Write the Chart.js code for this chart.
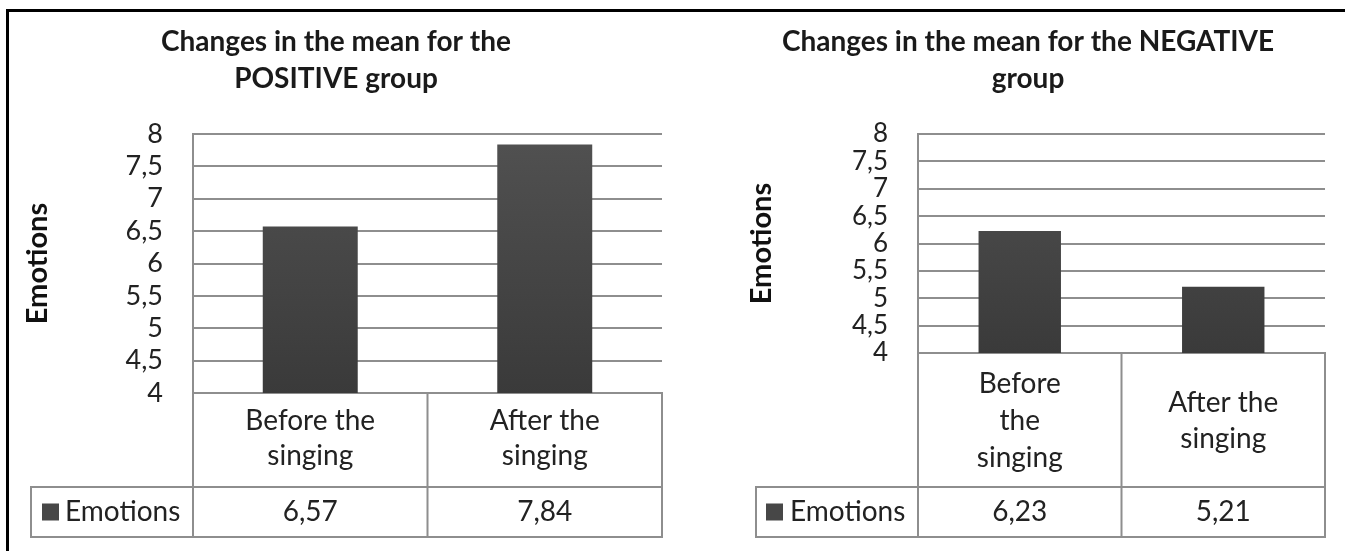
<!DOCTYPE html>
<html>
<head>
<meta charset="utf-8">
<script src="https://cdn.jsdelivr.net/npm/chart.js@4.4.1/dist/chart.umd.min.js"></script>
<style>
  html, body { margin: 0; padding: 0; background: #ffffff; width: 1345px; height: 551px; overflow: hidden; }
  #frame { position: absolute; left: 6px; top: 9px; width: 1400px; height: 600px; border-top: 3px solid #000; border-left: 3px solid #000; }
  #c1 { position: absolute; left: 0; top: 0; }
  #c2 { position: absolute; left: 721px; top: 0; }
</style>
</head>
<body>
<div id="frame"></div>
<canvas id="c1" width="678" height="551"></canvas>
<canvas id="c2" width="624" height="551"></canvas>
<script>
// ---------------- data ----------------
const yMin = 4;
const yMax = 8;
const yStep = 0.5;
const seriesLabel = 'Emotions';
const positiveTitle = ['Changes in the mean for the', 'POSITIVE group'];
const positiveCategories = [['Before the', 'singing'], ['After the', 'singing']];
const positiveValues = [6.57, 7.84];
const negativeTitle = ['Changes in the mean for the NEGATIVE', 'group'];
const negativeCategories = [['Before', 'the', 'singing'], ['After the', 'singing']];
const negativeValues = [6.23, 5.21];

// ---------------- styles ----------------
const FONT = "Lato, 'Open Sans', sans-serif";
const GRID = '#8e8e8e';
const TEXT = '#222222';
const KEY = '#474747';
const fmt = v => String(v).replace('.', ',');

function barFill(ctx) {
  const chart = ctx.chart;
  const area = chart.chartArea;
  if (!area) return KEY;
  const g = chart.ctx.createLinearGradient(0, area.top, 0, area.bottom);
  g.addColorStop(0, '#515151');
  g.addColorStop(1, '#3a3a3a');
  return g;
}

// data table (legend key + values) under the category axis
const dataTablePlugin = {
  id: 'dataTable',
  afterDraw(chart, args, opts) {
    const { ctx, chartArea } = chart;
    const x = chart.scales.x;
    const ds = chart.data.datasets[0];
    const n = chart.data.labels.length;
    const step = n > 1 ? x.getPixelForValue(1) - x.getPixelForValue(0) : (chartArea.right - chartArea.left);
    const rowBottom = x.bottom;
    const rowTop = rowBottom - opts.rowHeight;
    const rowMid = (rowTop + rowBottom) / 2;
    const left = opts.legendLeft;
    ctx.save();
    ctx.strokeStyle = opts.lineColor;
    ctx.lineWidth = opts.lineWidth;
    ctx.lineCap = 'square';
    ctx.beginPath();
    ctx.moveTo(left, rowTop); ctx.lineTo(chartArea.right, rowTop);
    ctx.moveTo(left, rowBottom); ctx.lineTo(chartArea.right, rowBottom);
    ctx.moveTo(left, rowTop); ctx.lineTo(left, rowBottom);
    for (let i = 0; i <= n; i++) {
      const bx = i < n ? x.getPixelForValue(i) - step / 2 : x.getPixelForValue(n - 1) + step / 2;
      ctx.moveTo(bx, chartArea.bottom); ctx.lineTo(bx, rowBottom);
    }
    ctx.stroke();
    ctx.fillStyle = opts.keyColor;
    ctx.fillRect(left + opts.keyInset, rowMid - opts.keySize / 2, opts.keySize, opts.keySize);
    ctx.fillStyle = opts.color;
    ctx.font = opts.font;
    ctx.textBaseline = 'middle';
    ctx.textAlign = 'left';
    ctx.fillText(ds.label, left + opts.textInset, rowMid);
    ctx.textAlign = 'center';
    ds.data.forEach((v, i) => ctx.fillText(fmt(v), x.getPixelForValue(i), rowMid));
    ctx.restore();
  }
};

function makeChart(id, cfg) {
  return new Chart(document.getElementById(id), {
    type: 'bar',
    data: {
      labels: cfg.labels,
      datasets: [{
        label: seriesLabel,
        data: cfg.values,
        backgroundColor: barFill,
        borderWidth: 0,
        barPercentage: 0.405,
        categoryPercentage: 1
      }]
    },
    options: {
      responsive: false,
      animation: false,
      events: [],
      layout: { padding: cfg.padding },
      plugins: {
        legend: { display: false },
        tooltip: { enabled: false },
        title: {
          display: true,
          text: cfg.title,
          color: '#1a1a1a',
          font: { family: FONT, size: 28, weight: 'bold', lineHeight: 1.34 },
          padding: { top: 13, bottom: 36 }
        },
        dataTable: {
          legendLeft: cfg.legendLeft,
          rowHeight: 50,
          lineColor: GRID,
          lineWidth: 2,
          keyColor: KEY,
          keyInset: cfg.keyInset,
          keySize: 17,
          textInset: 34,
          color: TEXT,
          font: '28px ' + FONT
        }
      },
      scales: {
        x: {
          grid: { display: false },
          border: { display: true, color: GRID, width: 2 },
          ticks: {
            autoSkip: false,
            maxRotation: 0,
            minRotation: 0,
            crossAlign: cfg.xCross,
            padding: cfg.xPad,
            color: TEXT,
            font: { family: FONT, size: 28, lineHeight: cfg.xLineHeight }
          },
          afterFit(s) { s.height = cfg.xHeight; }
        },
        y: {
          min: yMin,
          max: yMax,
          ticks: {
            stepSize: yStep,
            autoSkip: false,
            callback: v => fmt(v),
            padding: 30,
            color: TEXT,
            font: { family: FONT, size: cfg.yTickSize, lineHeight: 1 }
          },
          grid: { color: GRID, lineWidth: 2, drawTicks: false },
          border: { display: true, color: GRID, width: 2 },
          title: {
            display: true,
            text: seriesLabel,
            color: '#111111',
            font: { family: FONT, size: 29, weight: 'bold', lineHeight: 1.2 },
            padding: { top: cfg.yTitlePad, bottom: 0 }
          },
          afterFit(s) { s.width = cfg.yWidth; }
        }
      }
    },
    plugins: [dataTablePlugin]
  });
}

makeChart('c1', {
  labels: positiveCategories,
  values: positiveValues,
  title: positiveTitle,
  padding: { top: 10, left: 10, right: 16, bottom: 14 },
  yWidth: 183,
  xHeight: 144,
  xCross: 'near',
  xPad: 2,
  xLineHeight: 1.25,
  yTickSize: 27,
  yTitlePad: 10,
  legendLeft: 31,
  keyInset: 11
});

makeChart('c2', {
  labels: negativeCategories,
  values: negativeValues,
  title: negativeTitle,
  padding: { top: 10, left: 10, right: 20, bottom: 14 },
  yWidth: 187,
  xHeight: 184,
  xCross: 'center',
  xPad: 23,
  xLineHeight: 1.32,
  yTickSize: 26,
  yTitlePad: 13,
  legendLeft: 35,
  keyInset: 10
});
</script>
</body>
</html>
